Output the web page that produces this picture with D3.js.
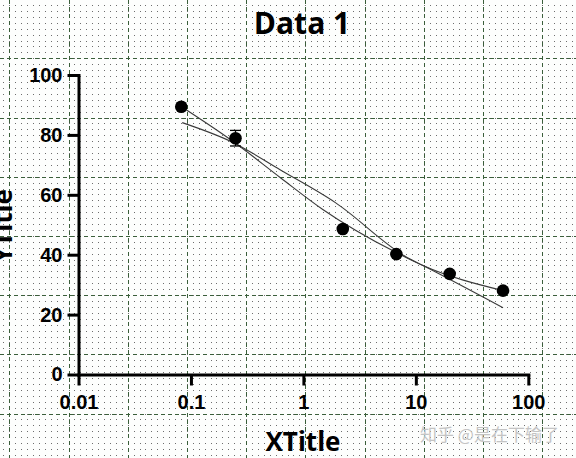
<!DOCTYPE html>
<html>
  <head>
    <meta charset="utf-8">
    <title>Data 1</title>
    <script src="https://d3js.org/d3.v7.min.js"></script>
    <style>
      body { margin: 0; background: #fff; }
      svg { display: block; font-family: "Open Sans", "Noto Sans", sans-serif; }
      .axis text { font-size: 20px; font-weight: bold; fill: #000; }
      .axis path, .axis line { stroke: #000; stroke-width: 3; }
      .axis path { stroke-linecap: square; }
    </style>
  </head>
  <body>
    <div id="chart"></div>
    <script>
      // measured points
      const xValues = [0.082, 0.249, 2.24, 6.71, 20.0, 59.6];
      const yValues = [89.4, 78.9, 48.6, 40.2, 33.6, 28.0];
      const yErrors = [0, 2.6, 0, 0, 0, 0];

      // two fitted curves
      const fitAx = [0.0824, 0.239, 0.625, 1.476, 6.71, 11.7, 59.6];
      const fitAy = [89.4, 77.7, 65.7, 55.2, 40.7, 36.3, 28.0];
      const fitBx = [0.0836, 0.239, 0.625, 1.925, 8.35, 11.7, 59.6];
      const fitBy = [84.1, 77.4, 68.3, 57.4, 39.1, 36.3, 22.3];

      const xTicks = [0.01, 0.1, 1, 10, 100];
      const yTicks = [0, 20, 40, 60, 80, 100];

      const width = 576, height = 458;
      const svg = d3.select('#chart').append('svg')
        .attr('width', width)
        .attr('height', height);

      svg.append('rect')
        .attr('width', width).attr('height', height)
        .attr('fill', '#fdfefd');

      // page grid: dotted minor lattice + dashed major lines
      const cell = 59.2, gx0 = 9.3, gy0 = -0.9;
      const step = cell / 10;
      let dotPath = '';
      for (let x = gx0 - step * Math.floor(gx0 / step); x < width; x += step) {
        for (let y = gy0 + step; y < height; y += step) {
          dotPath += `M${Math.round(x)},${Math.round(y)}h1v1h-1z`;
        }
      }
      svg.append('path')
        .attr('d', dotPath)
        .attr('fill', '#6e6e6e')
        .attr('shape-rendering', 'crispEdges');

      const grid = svg.append('g')
        .attr('stroke', '#3a5e3a')
        .attr('stroke-width', 1)
        .attr('stroke-dasharray', '4,3')
        .attr('shape-rendering', 'crispEdges');
      grid.selectAll('.gv').data(d3.range(0, 10)).enter().append('line')
        .attr('x1', k => Math.round(gx0 + k * cell) + 0.5).attr('x2', k => Math.round(gx0 + k * cell) + 0.5)
        .attr('y1', 0).attr('y2', height);
      grid.selectAll('.gh').data(d3.range(0, 9)).enter().append('line')
        .attr('y1', k => Math.round(gy0 + k * cell) + 0.5).attr('y2', k => Math.round(gy0 + k * cell) + 0.5)
        .attr('x1', 0).attr('x2', width);

      const xScale = d3.scaleLog()
        .domain([0.01, 100])
        .range([78.5, 528.3]);
      const yScale = d3.scaleLinear()
        .domain([0, 100])
        .range([374.5, 75]);

      // fitted lines
      const line = d3.line()
        .x(d => xScale(d[0]))
        .y(d => yScale(d[1]))
        .curve(d3.curveMonotoneX);

      [[fitAx, fitAy], [fitBx, fitBy]].forEach(([xs, ys]) => {
        svg.append('path')
          .datum(xs.map((x, i) => [x, ys[i]]))
          .attr('d', line)
          .attr('fill', 'none')
          .attr('stroke', '#3a3a3a')
          .attr('stroke-width', 1.1);
      });

      // error bars
      const pts = xValues.map((x, i) => ({ x: x, y: yValues[i], e: yErrors[i] }));
      const eb = svg.append('g').attr('stroke', '#000').attr('stroke-width', 1.3);
      pts.filter(d => d.e > 0).forEach(d => {
        const cx = xScale(d.x);
        eb.append('line')
          .attr('x1', cx).attr('x2', cx)
          .attr('y1', yScale(d.y - d.e)).attr('y2', yScale(d.y + d.e));
        [d.y - d.e, d.y + d.e].forEach(v => {
          eb.append('line')
            .attr('x1', cx - 5.5).attr('x2', cx + 5.5)
            .attr('y1', yScale(v)).attr('y2', yScale(v));
        });
      });

      svg.append('g').selectAll('circle').data(pts).enter().append('circle')
        .attr('cx', d => xScale(d.x))
        .attr('cy', d => yScale(d.y))
        .attr('r', 6.3)
        .attr('fill', '#000');

      // axes
      const xAxis = d3.axisBottom(xScale)
        .tickValues(xTicks)
        .tickFormat(d => String(d))
        .tickSize(11)
        .tickSizeOuter(0)
        .tickPadding(9);
      const yAxis = d3.axisLeft(yScale)
        .tickValues(yTicks)
        .tickSize(11)
        .tickSizeOuter(0)
        .tickPadding(5);

      svg.append('g')
        .attr('class', 'axis')
        .attr('transform', `translate(0,${yScale(0)})`)
        .call(xAxis);
      svg.append('g')
        .attr('class', 'axis')
        .attr('transform', `translate(${xScale(0.01)},0)`)
        .call(yAxis);

      // titles
      svg.append('text')
        .attr('x', 302).attr('y', 34)
        .attr('text-anchor', 'middle')
        .style('font-size', '30px').style('font-weight', 'bold')
        .text('Data 1');

      svg.append('text')
        .attr('x', 303).attr('y', 451)
        .attr('text-anchor', 'middle')
        .style('font-size', '26px').style('font-weight', 'bold')
        .text('XTitle');

      svg.append('text')
        .attr('transform', 'translate(12,226) rotate(-90)')
        .attr('text-anchor', 'middle')
        .style('font-size', '26px').style('font-weight', 'bold')
        .text('YTitle');

      svg.append('text')
        .attr('x', 420).attr('y', 441)
        .style('font-family', '"Noto Sans CJK SC", sans-serif')
        .style('font-size', '17px')
        .attr('fill', '#c4c4c4')
        .text('知乎 @是在下输了');
    </script>
  </body>
</html>
